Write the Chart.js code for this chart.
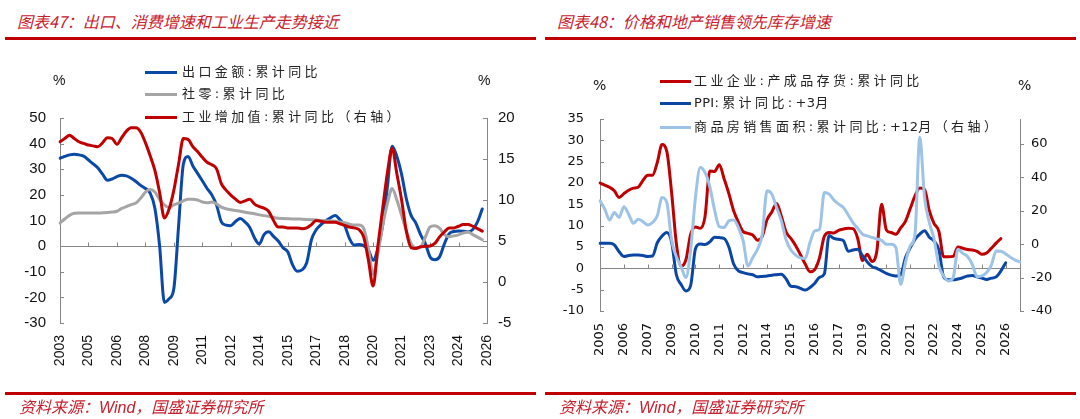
<!DOCTYPE html>
<html>
<head>
<meta charset="utf-8">
<script src="https://cdn.jsdelivr.net/npm/chart.js@4.4.1/dist/chart.umd.min.js"></script>
<style>
    body { margin: 0; width: 1080px; height: 419px; background: #fff; position: relative; overflow: hidden; font-family: "Noto Sans CJK SC", sans-serif; }
    .panel { position: absolute; top: 0; width: 540px; height: 419px; }
    .panel canvas { position: absolute; left: 0; top: 0; }
    .title { position: absolute; left: 17px; top: 11px; font-size: 16px; line-height: 20px; font-style: italic; color: #c8202c; white-space: nowrap; }
    .rule { position: absolute; left: 5px; width: 531px; height: 3px; background: #c00000; }
    .src { position: absolute; left: 19px; top: 396px; font-size: 16px; line-height: 20px; font-style: italic; color: #c8202c; white-space: nowrap; }
    .src b { font-family: "Liberation Sans", sans-serif; font-weight: normal; }
    .lg { position: absolute; height: 18px; line-height: 18px; font-size: 13px; letter-spacing: 3.4px; color: #222; white-space: nowrap; font-family: "DejaVu Sans", "Noto Sans CJK SC", sans-serif; }
    .lg span.sw { display: inline-block; width: 32px; height: 3px; vertical-align: middle; margin-right: 5px; }
    .lg em { font-style: normal; letter-spacing: 0.3px; }
    .pct { position: absolute; font-size: 14px; line-height: 16px; color: #111; }
</style>
</head>
<body>

<div class="panel" style="left:0">
    <div class="title">图表47：出口、消费增速和工业生产走势接近</div>
    <div class="rule" style="top:37px"></div>
    <canvas id="chartL" width="540" height="419"></canvas>
    <div class="pct" style="left:53px;top:72px;font-family:'Liberation Sans'">%</div>
    <div class="pct" style="left:478px;top:72px;font-family:'Liberation Sans'">%</div>
    <div class="lg" style="left:145px;top:63px"><span class="sw" style="background:#0b49a8"></span>出口金额:累计同比</div>
    <div class="lg" style="left:145px;top:85px"><span class="sw" style="background:#a5a5a5"></span>社零:累计同比</div>
    <div class="lg" style="left:145px;top:108px"><span class="sw" style="background:#c00000"></span>工业增加值:累计同比（右轴）</div>
    <div class="rule" style="top:392px"></div>
    <div class="src">资料来源：<b>Wind</b>，国盛证券研究所</div>
</div>

<div class="panel" style="left:540px">
    <div class="title">图表48：价格和地产销售领先库存增速</div>
    <div class="rule" style="top:37px"></div>
    <canvas id="chartR" width="540" height="419"></canvas>
    <div class="pct" style="left:53px;top:77px;font-family:'DejaVu Sans'">%</div>
    <div class="pct" style="left:478px;top:77px;font-family:'DejaVu Sans'">%</div>
    <div class="lg" style="left:120px;top:72px"><span class="sw" style="background:#c00000;width:31px;margin-right:3px"></span>工业企业:产成品存货:累计同比</div>
    <div class="lg" style="left:120px;top:94px"><span class="sw" style="background:#0b46a5;width:31px;margin-right:3px"></span><em>PPI</em>:累计同比:<em>+3</em>月</div>
    <div class="lg" style="left:120px;top:118px"><span class="sw" style="background:#9dc3e6;width:31px;margin-right:3px"></span>商品房销售面积:累计同比:<em>+12</em>月（右轴）</div>
    <div class="rule" style="top:392px"></div>
    <div class="src">资料来源：<b>Wind</b>，国盛证券研究所</div>
</div>

<script>
(function () {
    'use strict';

    /* ---- Left chart data (quarterly, 2003 -> 2025) ---- */
    var yearTicksL = ['2003', '2005', '2006', '2008', '2009', '2011', '2012', '2014',
                      '2015', '2017', '2018', '2020', '2021', '2023', '2024', '2026'];

    // 出口金额:累计同比 (left axis)
    var exportsYoY = [
        34.3, 35, 35.6, 35.9, 35.6, 35.1, 33.6, 32.1, 30.5, 28,
        25.7, 26.2, 27.1, 27.7, 27.4, 26.5, 25.2, 23.7, 22.5, 20.7,
        14.8, 0, -22, -20.5, -16.5, 8, 32, 35, 31.3, 28.4,
        25.5, 22.5, 20, 16, 9.5, 8.2, 8, 9.6, 10.8, 9.4,
        7.3, 3.2, 0.8, 4.5, 5.6, 3.8, 2, -0.6, -2.2, -7.2,
        -9.8, -9.3, -6.5, 2.5, 6.4, 8.4, 9.9, 11.1, 12, 10.3,
        8, 3, 0.4, 0.6, 0.2, -1.5, -5.5, -1, 8, 23,
        39, 35, 28, 18.5, 12, 9, 4.5, 1, -4.2, -5.3,
        -4.2, 0.8, 4.8, 5.7, 5.9, 5.8, 5.6, 6.5, 9.5, 14.5
    ];
    // 社零:累计同比 (left axis)
    var retailYoY = [
        9, 10.6, 12, 12.8, 12.9, 12.9, 12.9, 12.9, 12.9, 13,
        13.1, 13.3, 13.6, 14.7, 15.4, 16.2, 16.8, 18.7, 21.1, 22.1,
        21.1, 18.2, 16.1, 15.1, 16.1, 16.8, 17.7, 18.3, 18.3, 18,
        17.2, 16.9, 17.2, 16.5, 15.2, 14.6, 14.2, 13.9, 13.6, 13.2,
        12.9, 12.6, 12.2, 11.9, 11.6, 11.2, 10.9, 10.8, 10.7, 10.6,
        10.6, 10.5, 10.4, 10.3, 10.2, 10, 9.9, 9.8, 9.7, 9.4,
        9.1, 8.6, 8.2, 8.2, 7, -1, -11, -3, 8, 16.5,
        22.5, 18, 12, 6, 1, -0.7, -0.4, 3.5, 7.5, 8,
        7, 4.5, 3.7, 4, 4.4, 5.1, 5.5, 4.5, 3.5, 2.5
    ];
    // 工业增加值:累计同比 (right axis)
    var ivaYoY = [
        17.1, 17.5, 17.9, 17.5, 17.1, 16.9, 16.7, 16.6, 16.5, 17,
        17.6, 17.5, 16.8, 17.6, 18.4, 18.8, 18.8, 18.3, 17, 15.4,
        13.6, 10.9, 7.8, 8.9, 11.2, 14.4, 17.5, 17.4, 16.5, 15.9,
        15.2, 14.6, 14.3, 13.8, 12, 11.2, 10.6, 10.1, 9.7, 9.9,
        10.1, 9.5, 9.2, 9, 8.6, 7.5, 6.7, 6.7, 6.6, 6.6,
        6.6, 6.5, 6.6, 7, 7.5, 7.4, 7.3, 7.3, 7.3, 7.1,
        6.9, 6.7, 6.6, 6.4, 5.5, 2.7, -0.5, 4.4, 8.9, 13.3,
        16.3, 13.2, 10, 6.2, 4.2, 4.1, 4.3, 4.35, 4.4, 4.7,
        5.5, 6.1, 6.6, 6.6, 6.8, 7, 7, 6.8, 6.5, 6.2
    ];

    /* ---- Right chart data (quarterly, 2005 -> ) ---- */
    var yearTicksR = ['2005', '2006', '2007', '2009', '2010', '2011', '2012', '2014', '2015',
                      '2016', '2017', '2019', '2020', '2021', '2022', '2024', '2025', '2026'];

    // 工业企业:产成品存货:累计同比 (left axis)
    var inventoryYoY = [
        20, 19.5, 19, 18.2, 16.6, 17.5, 18.3, 18.8, 19, 20.6,
        21.8, 21.8, 24.8, 29, 27.4, 17.8, 5.8, 0.5, 2, 8,
        9.7, 9.4, 12.1, 22.8, 22.7, 24.3, 21, 17.5, 13.5, 10.8,
        8.6, 8.2, 7.8, 6.6, 7.5, 11.4, 13.2, 15.2, 12.2, 8.5,
        7, 5.3, 3.2, 1, -0.8, -0.3, 2.5, 7.5, 8.4, 8.3,
        8.9, 9.2, 9.4, 9.3, 7, 1.8, 3.3, 1.6, 4, 15,
        9, 8.4, 8, 9.5, 11, 14, 17, 18.8, 18.5, 13.5,
        10.5, 8.7, 2.7, 2.7, 2.8, 5, 4.7, 4.4, 4.3, 4,
        3.3, 3.6, 4.7, 5.9, 7
    ];
    // PPI:累计同比:+3月 (left axis)
    var ppiLead3 = [
        5.9, 5.9, 5.9, 5.5, 3.9, 2.8, 3, 3.1, 3.1, 3,
        2.8, 2.9, 6, 7.6, 8.4, 6.2, -1.5, -3.8, -5.3, -4,
        4.6, 5.7, 5.6, 6.2, 7.3, 7.2, 7, 5, 1, -0.6,
        -1, -1.3, -1.5, -2, -1.9, -1.8, -1.6, -1.5, -1.4, -2.5,
        -4.2, -4.3, -4.7, -5.1, -4.5, -3.5, -2.1, -1.3, 7.7, 7,
        6.8, 6.5, 4, 4.3, 4.5, 3, 1.5, 0.4, 0, -0.6,
        -1.2, -1.6, -1.8, -1.5, 2.5, 4.8, 6.8, 8, 8.8, 7.3,
        6.4, 4.3, -2, -2.7, -2.7, -2.5, -2.2, -1.8, -1.7, -2,
        -2.3, -2.6, -2.3, -2, -0.6, 1.3
    ];
    // 商品房销售面积:累计同比:+12月 (right axis)
    var salesLead12 = [
        26, 21, 14.5, 19, 16, 22.5, 18, 12.5, 15, 13.5,
        11.5, 13, 17, 28, 25, 2.5, -7.5, -13.5, -20, -3,
        28, 46, 43, 34.5, 20.5, 10.5, 10, 14, 14.5, 10,
        2, -13, -8, -3, 6, 32, 30, 22, 14, 2.5,
        -3.5, -6.5, -8.2, -8.5, 1, 8, 9, 31, 30, 26.5,
        24, 22, 17.5, 13, 9.5, 6, 5, 4, 3.2, 2.3,
        0, 0, -2, -24, -11, -1, 6, 64, 28, 13,
        3, -13, -19, -22, -20, -3, -5.5, -7.3, -12, -19.5,
        -19, -17, -12.5, -4, -4.2, -5.8, -7.8, -9.5, -10.6
    ];

    var quartersL = [];
    for (var i = 0; i < 91; i++) { quartersL.push((2003 + Math.floor(i / 4)) + 'Q' + (i % 4 + 1)); }
    var quartersR = [];
    for (var j = 0; j < 89; j++) { quartersR.push((2005 + Math.floor(j / 4)) + 'Q' + (j % 4 + 1)); }

    var RED = '#c00000', BLUE = '#0b49a8', GREY = '#a5a5a5', LIGHT = '#9dc3e6';
    var AXIS = '#868686', TXT = '#111';

    /* ---- zero line + small tick marks ---- */
    var axisDeco = {
        id: 'axisDeco',
        beforeDatasetsDraw: function (chart, args, opts) {
            var ctx = chart.ctx, a = chart.chartArea;
            var x = chart.scales.x, y = chart.scales.y, y2 = chart.scales.y2;
            var zy = Math.round(y.getPixelForValue(0)) + 0.5;
            ctx.save();
            ctx.strokeStyle = AXIS;
            ctx.lineWidth = 1;
            ctx.beginPath();
            ctx.moveTo(a.left, zy);
            ctx.lineTo(a.right, zy);
            x.ticks.forEach(function (t, k) {
                var px = Math.round(x.getPixelForTick(k)) + 0.5;
                ctx.moveTo(px, zy);
                ctx.lineTo(px, zy - 4);
            });
            y.ticks.forEach(function (t, k) {
                var py = Math.round(y.getPixelForTick(k)) + 0.5;
                ctx.moveTo(a.left, py);
                ctx.lineTo(a.left + 4, py);
            });
            y2.ticks.forEach(function (t, k) {
                var py = Math.round(y2.getPixelForTick(k)) + 0.5;
                ctx.moveTo(a.right, py);
                ctx.lineTo(opts.rightOut ? a.right + 4 : a.right - 4, py);
            });
            ctx.stroke();
            ctx.restore();
        }
    };

    function xAxis(every, names, font, height, pad) {
        return {
            type: 'category',
            position: 'bottom',
            grid: { display: false, drawTicks: false },
            border: { display: false },
            ticks: {
                autoSkip: false, minRotation: 90, maxRotation: 90, padding: pad,
                font: font, color: TXT,
                callback: function (v) { return names[v / every]; }
            },
            afterBuildTicks: function (s) {
                s.ticks = s.ticks.filter(function (t) { return t.value % every === 0; });
            },
            afterFit: function (s) { s.height = height; }
        };
    }

    function yAxis(pos, min, max, step, font, pad, width) {
        return {
            position: pos, min: min, max: max,
            grid: { display: false, drawTicks: false },
            border: { display: true, color: AXIS, width: 1 },
            ticks: { stepSize: step, padding: pad, font: font, color: TXT },
            afterFit: function (s) { s.width = width; }
        };
    }

    function lineSet(label, data, color, axis, order) {
        return { label: label, data: data, borderColor: color, backgroundColor: color, yAxisID: axis, order: order };
    }

    var common = {
        responsive: false,
        animation: false,
        elements: {
            point: { radius: 0 },
            line: { borderWidth: 3, cubicInterpolationMode: 'monotone', borderCapStyle: 'round', borderJoinStyle: 'round' }
        }
    };

    /* ---- Left chart ---- */
    var fontL = { family: 'Liberation Sans', size: 15 };
    var yL = yAxis('left', -30, 50, 10, fontL, 14, 60);
    var y2L = yAxis('right', -5, 20, 5, fontL, 11, 53);

    new Chart(document.getElementById('chartL'), {
        type: 'line',
        data: {
            labels: quartersL,
            datasets: [
                lineSet('出口金额:累计同比', exportsYoY, BLUE, 'y', 3),
                lineSet('社零:累计同比', retailYoY, GREY, 'y', 2),
                lineSet('工业增加值:累计同比（右轴）', ivaYoY, RED, 'y2', 1)
            ]
        },
        options: Object.assign({}, common, {
            layout: { padding: { top: 118 } },
            plugins: { legend: { display: false }, tooltip: { enabled: false }, axisDeco: { rightOut: false } },
            scales: {
                x: xAxis(6, yearTicksL, { family: 'Liberation Sans', size: 14 }, 96, 12),
                y: yL,
                y2: y2L
            }
        }),
        plugins: [axisDeco]
    });

    /* ---- Right chart ---- */
    var fontR = { family: 'DejaVu Sans', size: 13 };
    var yR = yAxis('left', -10, 35, 5, fontR, 16, 60);
    var y2R = yAxis('right', -40, 75, 20, fontR, 11, 60);
    y2R.afterBuildTicks = function (s) {
        s.ticks = s.ticks.filter(function (t) { return t.value % 20 === 0; });
    };

    new Chart(document.getElementById('chartR'), {
        type: 'line',
        data: {
            labels: quartersR,
            datasets: [
                lineSet('工业企业:产成品存货:累计同比', inventoryYoY, RED, 'y', 3),
                lineSet('PPI:累计同比:+3月', ppiLead3, '#0b46a5', 'y', 2),
                lineSet('商品房销售面积:累计同比:+12月（右轴）', salesLead12, LIGHT, 'y2', 1)
            ]
        },
        options: Object.assign({}, common, {
            layout: { padding: { top: 119 } },
            plugins: { legend: { display: false }, tooltip: { enabled: false }, axisDeco: { rightOut: true } },
            scales: {
                x: xAxis(5, yearTicksR, fontR, 108, 12),
                y: yR,
                y2: y2R
            }
        }),
        plugins: [axisDeco]
    });
})();
</script>
</body>
</html>
